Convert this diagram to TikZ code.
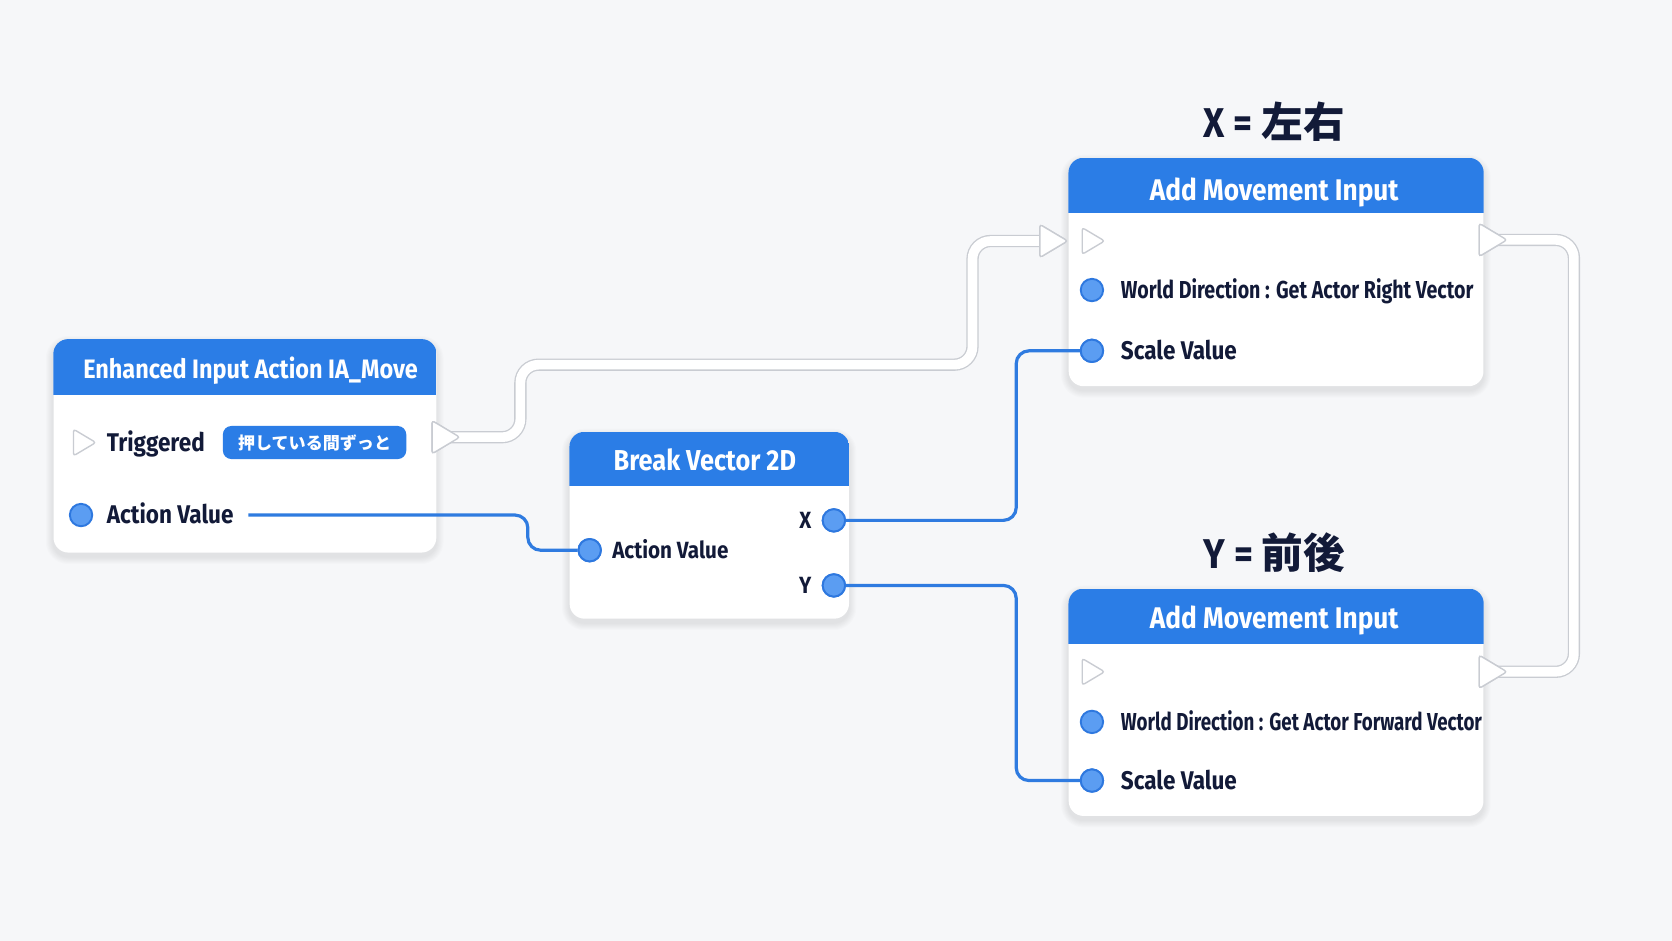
\documentclass[tikz,border=0pt]{standalone}
\usepackage{fontspec}
\setmainfont{Fira Sans}[FakeStretch=0.88]
\newfontfamily\narrowA{Fira Sans}[FakeStretch=0.80]
\newfontfamily\narrowB{Fira Sans}[FakeStretch=0.765]
\newfontfamily\jp{Noto Sans CJK JP}
\usetikzlibrary{shapes.geometric}
\definecolor{bg}{HTML}{F6F7F9}
\definecolor{hdr}{HTML}{2B7DE6}
\definecolor{pinfill}{HTML}{5B9DF2}
\definecolor{pinedge}{HTML}{2E78DF}
\definecolor{wireblue}{HTML}{2F7BE0}
\definecolor{txt}{HTML}{121A38}
\definecolor{execedge}{HTML}{C9CCD2}
\tikzset{
  box/.style={fill=white, rounded corners=14pt, inner sep=0pt, anchor=north west},
  hdrtext/.style={text=white, inner sep=0pt, text depth=0pt},
  hdrA/.style={hdrtext, font=\fontsize{25}{28}\selectfont\bfseries, text height=17.2pt},
  hdrB/.style={hdrtext, font=\fontsize{27}{30}\selectfont\bfseries, text height=18.6pt},
  hdrC/.style={hdrtext, font=\fontsize{28}{31}\selectfont\bfseries, text height=19.3pt},
  rowtext/.style={text=txt, inner sep=0pt, text depth=0pt, anchor=west},
  rowL/.style={rowtext, font=\fontsize{24}{28}\selectfont\bfseries, text height=16.5pt},
  rowM/.style={rowtext, font=\fontsize{22}{26}\selectfont\bfseries, text height=15.2pt},
  rowWA/.style={rowtext, font=\narrowA\fontsize{23}{27}\selectfont\bfseries, text height=15.8pt},
  rowWB/.style={rowtext, font=\narrowB\fontsize{23}{27}\selectfont\bfseries, text height=15.8pt},
  pin/.style={circle, fill=pinfill, draw=pinedge, line width=1.8pt, minimum size=21pt, inner sep=0pt},
  execpin/.style={isosceles triangle, isosceles triangle apex angle=80, isosceles triangle stretches, draw=execedge, fill=white, line width=1.3pt, rounded corners=2.5pt, inner sep=0pt, minimum width=25pt, minimum height=21pt},
  bigexec/.style={execpin, minimum width=31pt, minimum height=26pt},
  wire/.style={draw=wireblue, line width=3pt, rounded corners=12pt},
  execout/.style={draw=execedge, line width=11.5pt, rounded corners=17pt},
  execin/.style={draw=white, line width=9pt, rounded corners=17pt},
  label/.style={text=txt, font=\fontsize{39}{42}\selectfont\bfseries, inner sep=0pt},
  badge/.style={fill=hdr, rounded corners=8pt, minimum width=172pt, minimum height=31pt, inner sep=0pt, text=white, font=\jp\fontsize{16}{18}\selectfont\bfseries}
}
\newcommand\softshadow[4]{%
  \foreach \i in {1,...,7}{%
    \fill[black, opacity=0.012, rounded corners=14pt+\i pt] (#1-\i, #2-\i+4) rectangle (#3+\i, #4+\i+4);
  }}
\newcommand\hdrfill[2]{%
  \begin{scope}
    \clip[rounded corners=14pt] (#1.north west) rectangle (#1.south east);
    \fill[hdr] (#1.north west) rectangle ([yshift=-#2]#1.north east);
  \end{scope}}
\begin{document}
\begin{tikzpicture}[x=1pt,y=-1pt]
\fill[bg] (0,0) rectangle (1568,882);
\useasboundingbox (0,0) rectangle (1568,882);

% shadows
\softshadow{50}{318}{409}{518}
\softshadow{534}{405}{796}{580}
\softshadow{1002}{148}{1391}{362}
\softshadow{1002}{552}{1391}{765}

% boxes
\node[box, minimum width=359pt, minimum height=200pt] (n1) at (50,318) {};
\hdrfill{n1}{52pt}
\node[box, minimum width=262pt, minimum height=175pt] (n2) at (534,405) {};
\hdrfill{n2}{51pt}
\node[box, minimum width=389pt, minimum height=214pt] (n3) at (1002,148) {};
\hdrfill{n3}{52pt}
\node[box, minimum width=389pt, minimum height=213pt] (n4) at (1002,552) {};
\hdrfill{n4}{52pt}

% titles
\node[hdrA] (t1) at (235,346) {Enhanced Input Action IA\_Move};
\node[hdrB] (t2) at (661,432) {Break Vector 2D};
\node[hdrC] (t3) at (1195,178) {Add Movement Input};
\node[hdrC] (t4) at (1195,580) {Add Movement Input};

% labels above
\node[label] (lx) at (1195,114) {X = {\jp 左右}};
\node[label] (ly) at (1195,518) {Y = {\jp 前後}};

% node 1 rows
\node[execpin] (e1in) at (76,415) {};
\node[rowL] (trig) at (100,415) {Triggered};
\node[badge] (bd) at (295,415) {押している間ずっと};
\node[pin] (p1) at (76,483) {};
\node[rowL] (av1) at (100,483) {Action Value};

% node 2 rows
\node[pin] (p2in) at (553,516) {};
\node[rowM] (av2) at (574,516) {Action Value};
\node[pin] (px) at (782,488) {};
\node[rowM, anchor=east] (lxr) at (761,488) {X};
\node[pin] (py) at (782,549) {};
\node[rowM, anchor=east] (lyr) at (761,549) {Y};

% node 3 rows
\node[execpin] (e3in) at (1022,226) {};
\node[pin] (p3w) at (1024,272) {};
\node[rowWA] (w3) at (1051,272) {World Direction : Get Actor Right Vector};
\node[pin] (p3s) at (1024,329) {};
\node[rowL] (s3) at (1051,329) {Scale Value};

% node 4 rows
\node[execpin] (e4in) at (1022,630) {};
\node[pin] (p4w) at (1024,677) {};
\node[rowWB] (w4) at (1051,677) {World Direction : Get Actor Forward Vector};
\node[pin] (p4s) at (1024,732) {};
\node[rowL] (s4) at (1051,732) {Scale Value};

% exec wires
\coordinate (a1) at (488,410);
\coordinate (a2) at (488,342);
\coordinate (a3) at (912,342);
\coordinate (a4) at (912,226);
\coordinate (b1) at (1476,225);
\coordinate (b2) at (1476,630);
\node[bigexec] (e1out) at (414,410) {};
\node[bigexec] (arr3) at (984,226) {};
\node[bigexec] (e3out) at (1396,225) {};
\node[bigexec] (e4out) at (1396,630) {};
\path[execout] (e1out.center) -- (a1) -- (a2) -- (a3) -- (a4) -- (arr3.center);
\path[execin] (e1out.center) -- (a1) -- (a2) -- (a3) -- (a4) -- (arr3.center);
\path[execout] (e3out.center) -- (b1) -- (b2) -- (e4out.center);
\path[execin] (e3out.center) -- (b1) -- (b2) -- (e4out.center);
% exec triangles on top of the wires
\node[bigexec] at (e1out) {};
\node[bigexec] at (arr3) {};
\node[bigexec] at (e3out) {};
\node[bigexec] at (e4out) {};

% data wires
\coordinate (c0) at (233,483);
\coordinate (c1) at (495,483);
\coordinate (c2) at (495,516);
\draw[wire] (c0) -- (c1) -- (c2) -- (p2in.west);
\coordinate (d1) at (953,488);
\coordinate (d2) at (953,329);
\draw[wire] (px.east) -- (d1) -- (d2) -- (p3s.west);
\coordinate (f1) at (953,549);
\coordinate (f2) at (953,732);
\draw[wire] (py.east) -- (f1) -- (f2) -- (p4s.west);
% pins on top of the wires
\node[pin] at (p2in) {};
\node[pin] at (px) {};
\node[pin] at (py) {};
\node[pin] at (p3s) {};
\node[pin] at (p4s) {};
\end{tikzpicture}
\end{document}
